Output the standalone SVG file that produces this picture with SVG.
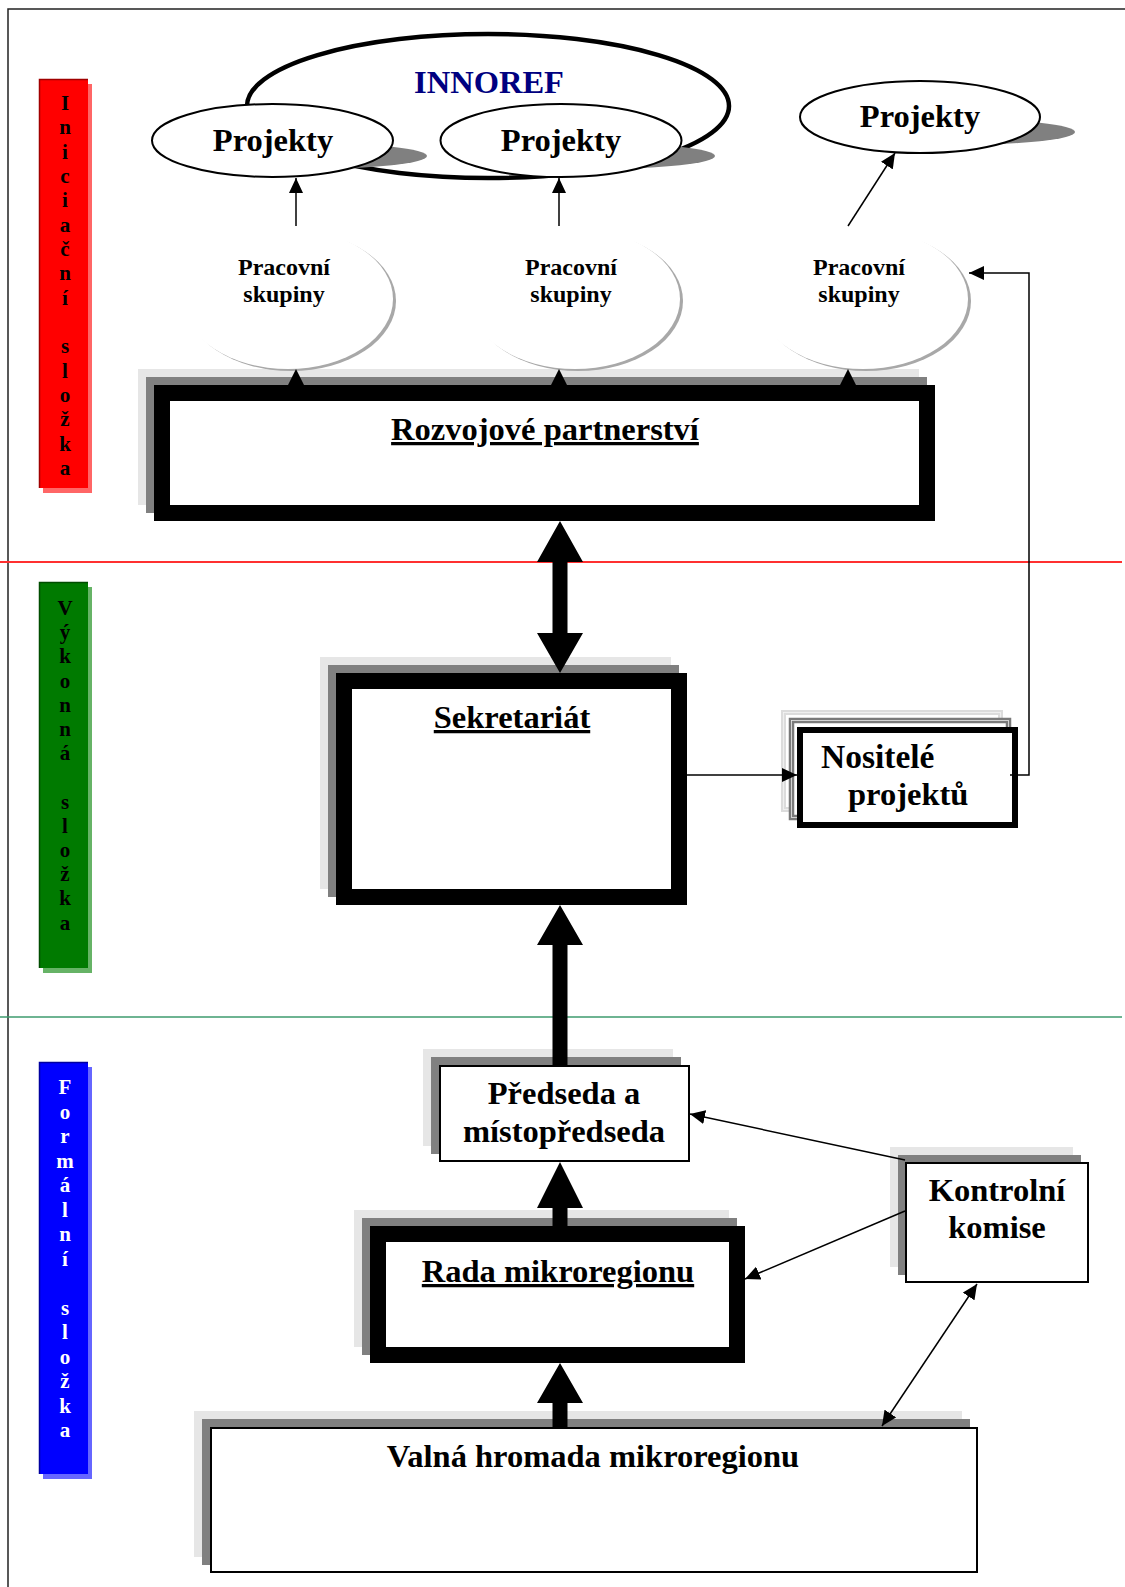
<svg xmlns="http://www.w3.org/2000/svg" width="1125" height="1587" viewBox="0 0 1125 1587">
<defs>
<style>
.t{font-family:"Liberation Serif","Times New Roman",serif;font-weight:bold;fill:#000}
.big{font-size:32.5px}
.mid{font-size:24px}
.side{font-size:21px;text-anchor:middle}
.c{text-anchor:middle}
.thin{stroke:#000;stroke-width:1.5;fill:none}
.sh1{fill:#e6e6e6}
.sh2{fill:#808080}
.thick{fill:#fff;stroke:#000;stroke-width:16}
.box{fill:#fff;stroke:#000;stroke-width:2}
.proj{fill:#fff;stroke:#000;stroke-width:2}
.pshadow{fill:#808080}
</style>
<marker id="ah" markerWidth="15" markerHeight="14" refX="15" refY="7" orient="auto-start-reverse" markerUnits="userSpaceOnUse">
<path d="M0,0 L15,7 L0,14 z" fill="#000"/>
</marker>
</defs>
<rect x="0" y="0" width="1125" height="1587" fill="#fff"/>
<!-- frame -->
<path d="M8,1587 L8,9 L1125,9" fill="none" stroke="#222" stroke-width="1.5"/>
<!-- section lines -->
<line x1="0" y1="562" x2="1122" y2="562" stroke="#ff3030" stroke-width="1.8"/>
<line x1="0" y1="1017" x2="1122" y2="1017" stroke="#3e9b6e" stroke-width="1.6"/>

<!-- sidebars -->
<g id="side-iniciacni">
<rect x="43" y="84" width="49" height="409" fill="#ff6666"/>
<rect x="39" y="79" width="49" height="409" fill="#ff0000"/>
<path d="M39.5,488 L39.5,79.5 L88,79.5" fill="none" stroke="#a00000" stroke-width="1.5"/>
<text class="t side"><tspan x="65" y="110">I</tspan><tspan x="65" dy="24.33">n</tspan><tspan x="65" dy="24.33">i</tspan><tspan x="65" dy="24.33">c</tspan><tspan x="65" dy="24.33">i</tspan><tspan x="65" dy="24.33">a</tspan><tspan x="65" dy="24.33">č</tspan><tspan x="65" dy="24.33">n</tspan><tspan x="65" dy="24.33">í</tspan><tspan x="65" dy="48.66">s</tspan><tspan x="65" dy="24.33">l</tspan><tspan x="65" dy="24.33">o</tspan><tspan x="65" dy="24.33">ž</tspan><tspan x="65" dy="24.33">k</tspan><tspan x="65" dy="24.33">a</tspan></text>
</g>
<g id="side-vykonna">
<rect x="43" y="587" width="49" height="386" fill="#66b366"/>
<rect x="39" y="582" width="49" height="386" fill="#007a00"/>
<path d="M39.5,968 L39.5,582.5 L88,582.5" fill="none" stroke="#004d00" stroke-width="1.5"/>
<text class="t side"><tspan x="65" y="615">V</tspan><tspan x="65" dy="24.2">ý</tspan><tspan x="65" dy="24.2">k</tspan><tspan x="65" dy="24.2">o</tspan><tspan x="65" dy="24.2">n</tspan><tspan x="65" dy="24.2">n</tspan><tspan x="65" dy="24.2">á</tspan><tspan x="65" dy="48.4">s</tspan><tspan x="65" dy="24.2">l</tspan><tspan x="65" dy="24.2">o</tspan><tspan x="65" dy="24.2">ž</tspan><tspan x="65" dy="24.2">k</tspan><tspan x="65" dy="24.2">a</tspan></text>
</g>
<g id="side-formalni">
<rect x="43" y="1067" width="49" height="412" fill="#6666ff"/>
<rect x="39" y="1062" width="49" height="412" fill="#0000ff"/>
<path d="M39.5,1474 L39.5,1062.5 L88,1062.5" fill="none" stroke="#0000a0" stroke-width="1.5"/>
<text class="t side" style="fill:#fff"><tspan x="65" y="1094">F</tspan><tspan x="65" dy="24.5">o</tspan><tspan x="65" dy="24.5">r</tspan><tspan x="65" dy="24.5">m</tspan><tspan x="65" dy="24.5">á</tspan><tspan x="65" dy="24.5">l</tspan><tspan x="65" dy="24.5">n</tspan><tspan x="65" dy="24.5">í</tspan><tspan x="65" dy="49">s</tspan><tspan x="65" dy="24.5">l</tspan><tspan x="65" dy="24.5">o</tspan><tspan x="65" dy="24.5">ž</tspan><tspan x="65" dy="24.5">k</tspan><tspan x="65" dy="24.5">a</tspan></text>
</g>

<!-- INNOREF -->
<g id="innoref">
<ellipse cx="488" cy="106" rx="241" ry="72" fill="none" stroke="#000" stroke-width="4.5"/>
<text class="t big c" x="489" y="93" style="fill:#000080">INNOREF</text>
</g>
<g id="projekty-1">
<ellipse class="pshadow" cx="307" cy="156" rx="120" ry="13"/>
<ellipse class="proj" cx="272.5" cy="140.5" rx="120.5" ry="36.5"/>
<text class="t big c" x="273" y="151">Projekty</text>
</g>
<g id="projekty-2">
<ellipse class="pshadow" cx="595" cy="156" rx="120" ry="13"/>
<ellipse class="proj" cx="561" cy="140.5" rx="120.5" ry="36.5"/>
<text class="t big c" x="561" y="151">Projekty</text>
</g>
<g id="projekty-3">
<ellipse class="pshadow" cx="955" cy="132" rx="120" ry="13"/>
<ellipse class="proj" cx="920" cy="117" rx="120" ry="36"/>
<text class="t big c" x="920" y="127">Projekty</text>
</g>

<!-- Rozvojove partnerstvi -->
<g id="rozvojove-partnerstvi">
<rect class="sh1" x="138" y="369" width="781" height="136"/>
<rect class="sh2" x="146" y="377" width="781" height="136"/>
<rect class="thick" x="162" y="393" width="765" height="120"/>
<text class="t big c" x="545" y="440" text-decoration="underline">Rozvojové partnerství</text>
</g>

<!-- Pracovni skupiny -->
<g id="pracovni-1">
<ellipse cx="291" cy="301" rx="105" ry="70" fill="#a8a8a8"/>
<ellipse cx="288" cy="299" rx="105" ry="70" fill="#fff"/>
<text class="t mid c" x="284" y="275">Pracovní</text>
<text class="t mid c" x="284" y="302">skupiny</text>
</g>
<g id="pracovni-2">
<ellipse cx="578" cy="301" rx="105" ry="70" fill="#a8a8a8"/>
<ellipse cx="575" cy="299" rx="105" ry="70" fill="#fff"/>
<text class="t mid c" x="571" y="275">Pracovní</text>
<text class="t mid c" x="571" y="302">skupiny</text>
</g>
<g id="pracovni-3">
<ellipse cx="866" cy="301" rx="105" ry="70" fill="#a8a8a8"/>
<ellipse cx="863" cy="299" rx="105" ry="70" fill="#fff"/>
<text class="t mid c" x="859" y="275">Pracovní</text>
<text class="t mid c" x="859" y="302">skupiny</text>
</g>

<!-- Sekretariat -->
<g id="sekretariat">
<rect class="sh1" x="320" y="657" width="351" height="232"/>
<rect class="sh2" x="328" y="665" width="351" height="232"/>
<rect class="thick" x="344" y="681" width="335" height="216"/>
<text class="t big c" x="512" y="728" text-decoration="underline">Sekretariát</text>
</g>

<!-- Nositele projektu -->
<g id="nositele-projektu">
<rect x="783.5" y="712.5" width="217" height="97" fill="#fff" stroke="#dcdcdc" stroke-width="5"/>
<rect x="783.5" y="712.5" width="217" height="97" fill="none" stroke="#f4f4f4" stroke-width="0.8"/>
<rect x="791.5" y="720.5" width="217" height="97" fill="#fff" stroke="#7a7a7a" stroke-width="5.5"/>
<rect x="791.5" y="720.5" width="217" height="97" fill="none" stroke="#e8e8e8" stroke-width="0.8"/>
<rect x="800" y="730" width="215" height="95" fill="#fff" stroke="#000" stroke-width="6"/>
<text class="t big" x="821" y="768" style="font-size:33.5px">Nositelé</text>
<text class="t big" x="848" y="805">projektů</text>
</g>

<!-- Predseda -->
<g id="predseda">
<rect class="sh1" x="423" y="1049" width="250" height="97"/>
<rect class="sh2" x="431" y="1057" width="250" height="97"/>
<rect class="box" x="440" y="1066" width="249" height="95"/>
<text class="t big c" x="564" y="1104">Předseda a</text>
<text class="t big c" x="564" y="1142">místopředseda</text>
</g>

<!-- Rada -->
<g id="rada-mikroregionu">
<rect class="sh1" x="354" y="1210" width="375" height="137"/>
<rect class="sh2" x="362" y="1218" width="375" height="137"/>
<rect class="thick" x="378" y="1234" width="359" height="121"/>
<text class="t big c" x="558" y="1282" text-decoration="underline">Rada mikroregionu</text>
</g>

<!-- Kontrolni komise -->
<g id="kontrolni-komise">
<rect class="sh1" x="890" y="1147" width="183" height="120"/>
<rect class="sh2" x="898" y="1155" width="183" height="120"/>
<rect class="box" x="906" y="1163" width="182" height="119"/>
<text class="t big c" x="997" y="1201">Kontrolní</text>
<text class="t big c" x="997" y="1238">komise</text>
</g>

<!-- Valna hromada -->
<g id="valna-hromada">
<rect class="sh1" x="194" y="1411" width="768" height="146"/>
<rect class="sh2" x="202" y="1419" width="768" height="146"/>
<rect class="box" x="211" y="1428" width="766" height="144"/>
<text class="t big c" x="593" y="1467">Valná hromada mikroregionu</text>
</g>

<!-- connectors -->
<g id="connectors">
<line class="thin" x1="296" y1="226" x2="296" y2="178" marker-end="url(#ah)"/>
<line class="thin" x1="559" y1="226" x2="559" y2="178" marker-end="url(#ah)"/>
<line class="thin" x1="848" y1="226" x2="895" y2="153" marker-end="url(#ah)"/>
<path d="M288,385 L296,369 L304,385 Z M551,385 L559,369 L567,385 Z M840,385 L848,369 L856,385 Z" fill="#000"/>
<path d="M560,521 L583,562 L567.5,562 L567.5,633 L583,633 L560,673 L537,633 L552.5,633 L552.5,562 L537,562 Z" fill="#000"/>
<path d="M560,905 L583,945 L567.5,945 L567.5,1065 L552.5,1065 L552.5,945 L537,945 Z" fill="#000"/>
<path d="M560,1162 L583,1208 L567.5,1208 L567.5,1226 L552.5,1226 L552.5,1208 L537,1208 Z" fill="#000"/>
<path d="M560,1363 L583,1403 L567.5,1403 L567.5,1427 L552.5,1427 L552.5,1403 L537,1403 Z" fill="#000"/>
<line class="thin" x1="687" y1="775" x2="797" y2="775" marker-end="url(#ah)"/>
<polyline class="thin" points="1010,775 1029,775 1029,273 969,273" marker-end="url(#ah)"/>
<line class="thin" x1="905" y1="1160" x2="690" y2="1114" marker-end="url(#ah)"/>
<line class="thin" x1="905" y1="1211" x2="745" y2="1279" marker-end="url(#ah)"/>
<line class="thin" x1="977" y1="1284" x2="882" y2="1426" marker-start="url(#ah)" marker-end="url(#ah)"/>
</g>
</svg>
